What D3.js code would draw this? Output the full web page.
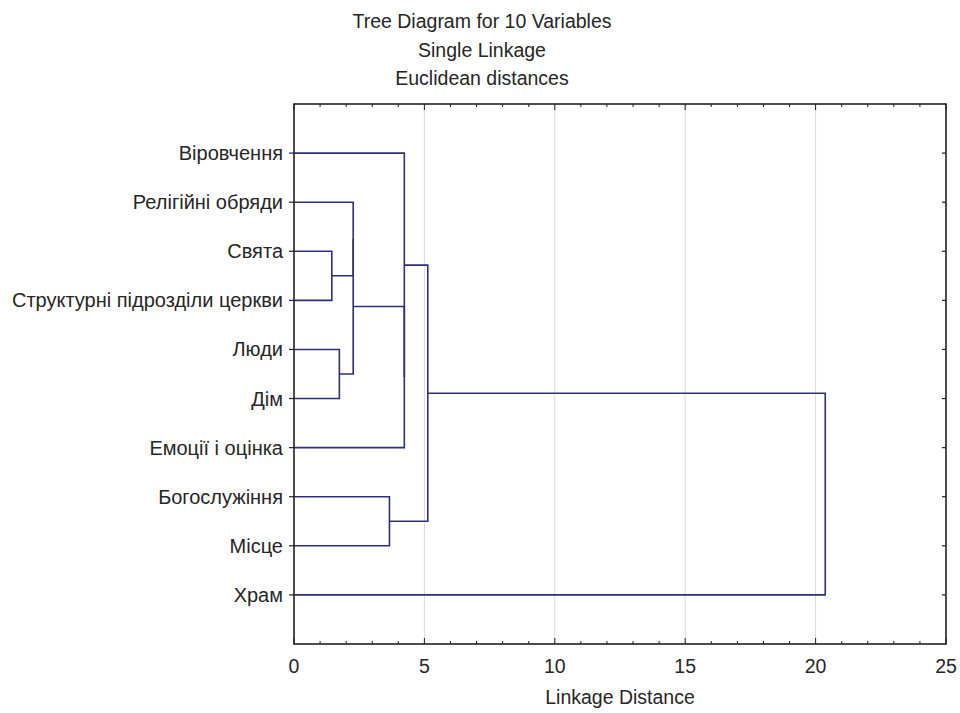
<!DOCTYPE html>
<html>
<head>
<meta charset="utf-8">
<script src="https://cdn.jsdelivr.net/npm/d3@7"></script>
<style>
  html, body { margin: 0; padding: 0; background: #fff; }
  svg { display: block; font-family: "Liberation Sans", Arial, sans-serif; }
</style>
</head>
<body>
<svg id="chart" width="960" height="713"></svg>
<script>
// Variables in the order they appear along the vertical axis
const leaves = [
  "Віровчення",
  "Релігійні обряди",
  "Свята",
  "Структурні підрозділи церкви",
  "Люди",
  "Дім",
  "Емоції і оцінка",
  "Богослужіння",
  "Місце",
  "Храм"
];

// Agglomeration steps: [left child, right child, linkage distance].
// Indices < 10 are leaves, index 10 + k is the cluster formed at step k.
const merges = [
  [2, 3, 1.45],
  [4, 5, 1.74],
  [1, 10, 2.27],
  [12, 11, 2.27],
  [13, 6, 4.23],
  [0, 14, 4.23],
  [7, 8, 3.66],
  [15, 16, 5.13],
  [17, 9, 20.37]
];

const xTicks = [0, 5, 10, 15, 20, 25];
const titleLines = ["Tree Diagram for 10 Variables", "Single Linkage", "Euclidean distances"];
const xTitle = "Linkage Distance";

const svg = d3.select("#chart");
const plotL = 294, plotR = 946, plotT = 104, plotB = 644;
const fontSize = 19.5;
const labelSize = 20;
const textColor = "#262626";

const x = d3.scaleLinear().domain([0, 25]).range([plotL, plotR]);
const y = d3.scaleLinear().domain([0, leaves.length + 1]).range([plotT, plotB]);

// gridlines at major ticks
svg.append("g").selectAll("line")
  .data(xTicks.filter(d => d > 0 && d < 25))
  .join("line")
  .attr("x1", d => x(d)).attr("x2", d => x(d))
  .attr("y1", plotT).attr("y2", plotB)
  .attr("stroke", "#d9d9d9").attr("stroke-width", 1);

// node positions
const nodes = leaves.map((name, i) => ({ y: y(i + 1), h: 0 }));
merges.forEach(([a, b, h]) => {
  nodes.push({ y: (nodes[a].y + nodes[b].y) / 2, h, a, b });
});

const tree = svg.append("g")
  .attr("fill", "none")
  .attr("stroke", "#2e2e80")
  .attr("stroke-width", 1.6);

merges.forEach(([a, b, h]) => {
  const na = nodes[a], nb = nodes[b];
  tree.append("path")
    .attr("d", `M${x(na.h)},${na.y}H${x(h)}V${nb.y}H${x(nb.h)}`);
});

// axes frame
const axisColor = "#222";
const xMinor = d3.range(0, 26, 1);

svg.append("g").selectAll("line").data(xMinor).join("line")
  .attr("x1", d => x(d)).attr("x2", d => x(d))
  .attr("y1", plotB).attr("y2", d => plotB - (d % 5 === 0 ? 6 : 3))
  .attr("stroke", axisColor).attr("stroke-width", 1);
svg.append("g").selectAll("line").data(xMinor).join("line")
  .attr("x1", d => x(d)).attr("x2", d => x(d))
  .attr("y1", plotT).attr("y2", d => plotT + (d % 5 === 0 ? 6 : 3))
  .attr("stroke", axisColor).attr("stroke-width", 1);

// leaf ticks on left (outward) and right (inward)
svg.append("g").selectAll("line").data(leaves).join("line")
  .attr("x1", plotL - 5).attr("x2", plotL)
  .attr("y1", (d, i) => y(i + 1)).attr("y2", (d, i) => y(i + 1))
  .attr("stroke", axisColor).attr("stroke-width", 1.2);
svg.append("g").selectAll("line").data(leaves).join("line")
  .attr("x1", plotR - 4).attr("x2", plotR)
  .attr("y1", (d, i) => y(i + 1)).attr("y2", (d, i) => y(i + 1))
  .attr("stroke", axisColor).attr("stroke-width", 1.2);

svg.append("rect")
  .attr("x", plotL).attr("y", plotT)
  .attr("width", plotR - plotL).attr("height", plotB - plotT)
  .attr("fill", "none").attr("stroke", axisColor).attr("stroke-width", 1.6);

// leaf labels
svg.append("g").selectAll("text").data(leaves).join("text")
  .attr("x", plotL - 11)
  .attr("y", (d, i) => y(i + 1))
  .attr("dy", "0.35em")
  .attr("text-anchor", "end")
  .attr("font-size", labelSize)
  .attr("fill", textColor)
  .text(d => d);

// x tick labels
svg.append("g").selectAll("text").data(xTicks).join("text")
  .attr("x", d => x(d))
  .attr("y", 673)
  .attr("text-anchor", "middle")
  .attr("font-size", fontSize)
  .attr("fill", textColor)
  .text(d => d);

svg.append("text")
  .attr("x", (plotL + plotR) / 2).attr("y", 704)
  .attr("text-anchor", "middle")
  .attr("font-size", fontSize)
  .attr("fill", textColor)
  .text(xTitle);

svg.append("g").selectAll("text").data(titleLines).join("text")
  .attr("x", 482)
  .attr("y", (d, i) => 28 + i * 28.5)
  .attr("text-anchor", "middle")
  .attr("font-size", fontSize)
  .attr("fill", textColor)
  .text(d => d);
</script>
</body>
</html>
